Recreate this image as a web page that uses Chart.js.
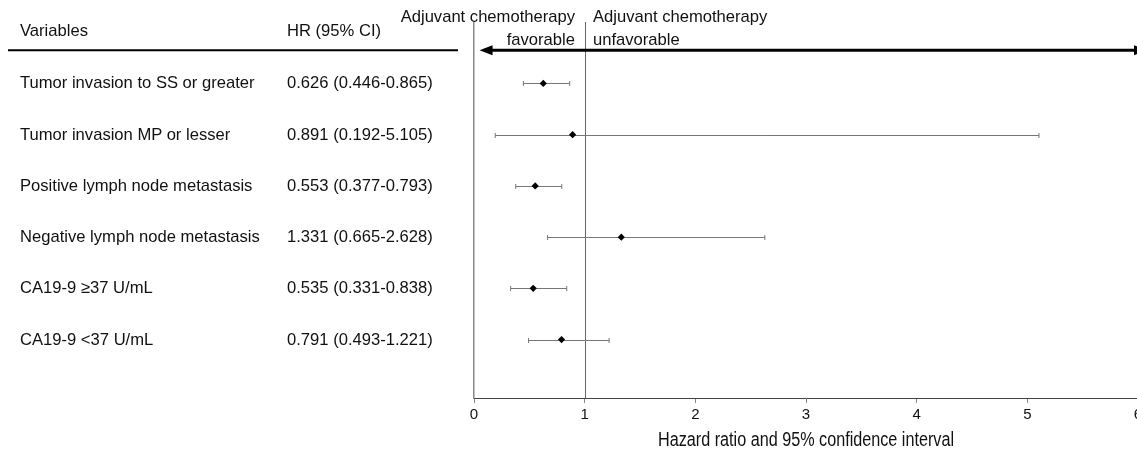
<!DOCTYPE html>
<html>
<head>
<meta charset="utf-8">
<script src="https://cdn.jsdelivr.net/npm/chart.js@4"></script>
<style>
  html, body { margin: 0; padding: 0; background: #fff; overflow: hidden; }
  #wrap { position: relative; width: 1150px; height: 454px; }
  canvas { position: absolute; left: 0; top: 0; }
  .t { position: absolute; font-family: "Liberation Sans", Arial, sans-serif; font-size: 16.6px; color: #111; white-space: nowrap; transform: translateY(-50%); line-height: 1; }
  .r { transform: translate(-100%, -50%); text-align: right; }
  .c { font-size: 19.5px; transform: translate(-50%, -50%) scaleX(0.83); }
</style>
</head>
<body>
<div id="wrap">
  <canvas id="forest" width="1150" height="454"></canvas>
</div>
<script>
const variables = [
  'Tumor invasion to SS or greater',
  'Tumor invasion MP or lesser',
  'Positive lymph node metastasis',
  'Negative lymph node metastasis',
  'CA19-9 \u226537 U/mL',
  'CA19-9 <37 U/mL'
];
const hr = [0.626, 0.891, 0.553, 1.331, 0.535, 0.791];
const ciLow = [0.446, 0.192, 0.377, 0.665, 0.331, 0.493];
const ciHigh = [0.865, 5.105, 0.793, 2.628, 0.838, 1.221];
const xTicks = [0, 1, 2, 3, 4, 5, 6];
const xTitle = 'Hazard ratio and 95% confidence interval';

const FONT = '"Liberation Sans", Arial, sans-serif';
const wrap = document.getElementById('wrap');

function addText(txt, x, y, cls){
  const d = document.createElement('div');
  d.className = 't' + (cls ? ' ' + cls : '');
  d.textContent = txt;
  d.style.left = x + 'px';
  d.style.top = y + 'px';
  wrap.appendChild(d);
  return d;
}

// header texts
addText('Variables', 20, 31);
addText('HR (95% CI)', 287, 31);
addText('Adjuvant chemotherapy', 575, 17, 'r');
addText('favorable', 575, 40, 'r');
addText('Adjuvant chemotherapy', 593, 17);
addText('unfavorable', 593, 40);

// row texts and axis title, placed later from the scales
const rowDivs = variables.map((v, i) => [
  addText(v, 20, 0),
  addText(hr[i].toFixed(3) + ' (' + ciLow[i].toFixed(3) + '-' + ciHigh[i].toFixed(3) + ')', 287, 0)
]);
const titleDiv = addText(xTitle, 0, 0, 'c');

const forestPlugin = {
  id: 'forest',
  beforeDatasetsDraw(chart){
    const {ctx, chartArea, scales: {x, y}} = chart;
    ctx.save();
    // reference line at HR = 1
    const x1 = Math.round(x.getPixelForValue(1)) + 0.5;
    ctx.strokeStyle = '#666';
    ctx.lineWidth = 1;
    ctx.beginPath();
    ctx.moveTo(x1, chartArea.top - 1);
    ctx.lineTo(x1, chartArea.bottom);
    ctx.stroke();
    // confidence intervals
    ctx.strokeStyle = '#777';
    hr.forEach((v, i) => {
      const py = Math.round(y.getPixelForValue(i)) + 0.5;
      const a = x.getPixelForValue(ciLow[i]);
      const b = x.getPixelForValue(ciHigh[i]);
      ctx.beginPath();
      ctx.moveTo(a, py); ctx.lineTo(b, py);
      ctx.moveTo(a, py - 2.5); ctx.lineTo(a, py + 2.5);
      ctx.moveTo(b, py - 2.5); ctx.lineTo(b, py + 2.5);
      ctx.stroke();
    });
    // header rule on the left
    const ay = y.getPixelForValue(-0.65);
    ctx.strokeStyle = '#000';
    ctx.lineWidth = 2;
    ctx.beginPath();
    ctx.moveTo(8, ay); ctx.lineTo(458, ay);
    ctx.stroke();
    // double arrow, right head runs past the window edge
    const ax0 = x.getPixelForValue(0.05);
    const ax1 = chartArea.right + 9;
    ctx.lineWidth = 3;
    ctx.beginPath();
    ctx.moveTo(ax0 + 8, ay); ctx.lineTo(ax1 - 6, ay);
    ctx.stroke();
    ctx.fillStyle = '#000';
    ctx.beginPath();
    ctx.moveTo(ax0, ay); ctx.lineTo(ax0 + 13, ay - 5); ctx.lineTo(ax0 + 13, ay + 5); ctx.closePath();
    ctx.fill();
    ctx.beginPath();
    ctx.moveTo(ax1, ay); ctx.lineTo(ax1 - 13, ay - 5); ctx.lineTo(ax1 - 13, ay + 5); ctx.closePath();
    ctx.fill();
    ctx.restore();
  },
  afterDraw(chart){
    const {chartArea, scales: {y}} = chart;
    rowDivs.forEach((pair, i) => {
      const py = y.getPixelForValue(i);
      pair.forEach(d => { d.style.top = py + 'px'; });
    });
    titleDiv.style.left = ((chartArea.left + chartArea.right) / 2) + 'px';
    titleDiv.style.top = (chartArea.bottom + 42) + 'px';
  }
};

new Chart(document.getElementById('forest'), {
  type: 'scatter',
  data: {
    datasets: [{
      data: hr.map((v, i) => ({x: v, y: i})),
      pointStyle: 'rectRot',
      pointRadius: 3.6,
      backgroundColor: '#000',
      borderColor: '#000',
      borderWidth: 0
    }]
  },
  plugins: [forestPlugin],
  options: {
    responsive: false,
    animation: false,
    layout: { padding: { left: 474, right: 12, top: 23, bottom: 27 } },
    plugins: { legend: { display: false }, tooltip: { enabled: false } },
    scales: {
      x: {
        type: 'linear',
        min: 0, max: 6,
        afterBuildTicks(s){ s.ticks = xTicks.map(v => ({value: v})); },
        grid: { drawOnChartArea: false, tickLength: 5, color: '#888' },
        border: { color: '#444', width: 1 },
        ticks: { color: '#111', font: { family: FONT, size: 15 }, padding: 3 }
      },
      y: {
        type: 'linear',
        reverse: true,
        min: -1.18, max: 6.14,
        grid: { drawOnChartArea: false, drawTicks: false },
        border: { color: '#888', width: 1.5 },
        ticks: { display: false }
      }
    }
  }
});
</script>
</body>
</html>
